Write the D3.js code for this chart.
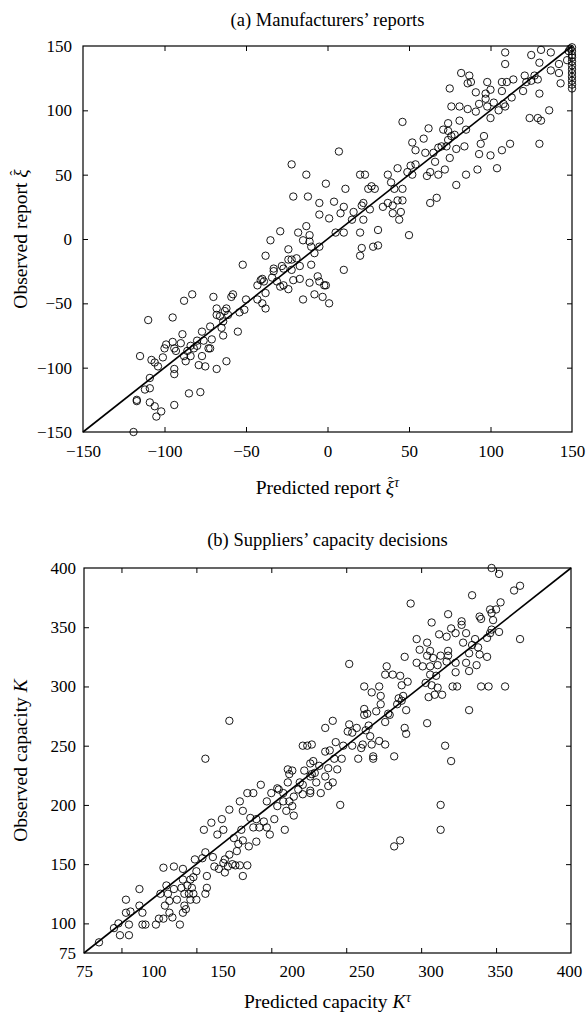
<!DOCTYPE html>
<html>
<head>
<meta charset="utf-8">
<script src="https://cdn.jsdelivr.net/npm/d3@7"></script>
<style>
	body { margin: 0; background: #fff; }
	svg { display: block; }
	text { font-family: 'Liberation Serif', 'Times New Roman', serif; fill: #000; }
</style>
</head>
<body>
<svg id="chart" width="587" height="1013"></svg>
<script>
// (a) manufacturers' reports: [predicted, observed]
const reportPairs = [
	[109,145],[109,136],[125,143],[131,147],[137,145],[130,137],[142,136],[147,139],
	[82,129],[87,127],[86,121],[88,122],[98,122],[75,117],[91,114],[97,113],[100,116],[107,122],[110,122],[114,124],[107,115],[113,110],
	[121,127],[122,122],[125,123],[127,127],[129,124],[120,115],[130,113],[137,131],[142,129],[143,121],
	[124,94],[129,94],[131,92],[136,100],[130,74],
	[97,109],[98,103],[102,106],[105,100],[109,103],[108,105],[100,94],[93,105],[91,99],[86,101],[81,103],[76,103],
	[81,92],[85,85],[74,90],[74,84],[78,81],[76,80],[71,85],[74,77],[68,71],[70,72],
	[62,86],[59,78],[52,75],[54,69],[60,67],[65,67],[73,72],[79,70],[84,72],[94,74],[96,80],[93,66],[100,65],[107,69],[112,74],
	[104,55],[92,54],[85,50],[79,42],[75,63],[66,60],[72,54],[68,50],[63,52],[61,49],
	[51,57],[54,58],[49,52],[52,50],[43,55],[37,50],[39,44],[46,91],[41,39],[46,39],[43,30],[46,30],[40,26],[34,25],[37,28],
	[45,21],[40,20],[44,15],[63,28],[67,32],[50,3],
	[20,50],[23,50],[25,39],[27,41],[29,39],[11,39],[7,68],[4,29],[8,20],[10,25],[16,21],[22,28],[21,26],[26,23],[15,15],[22,15],
	[5,5],[10,5],[20,5],[21,-7],[20,-13],[28,-6],[31,-5],[31,7],[10,-24],
	[-22,58],[-13,50],[-1,43],[-21,33],[-12,33],[-5,28],[-5,19],[1,16],[-13,10],[-29,6],[-35,-1],[-18,5],[-11,3],[-15,-1],[-11,-2],
	[-10,-6],[-5,-6],[-24,-8],[-8,-11],[-38,-13],[-24,-16],[-22,-16],[-19,-15],[-28,-21],[-33,-23],[-52,-20],[-17,-21],[-10,-20],
	[-27,-23],[-22,-24],[-33,-25],[-41,-32],[-39,-33],[-34,-30],[-31,-33],[-29,-37],[-27,-36],[-24,-39],[-21,-32],[-17,-31],[-15,-47],
	[-11,-34],[-8,-43],[-6,-29],[-5,-33],[-3,-45],[-1,-36],[1,-50],[-2,-36],
	[-43,-36],[-40,-31],[-38,-42],[-38,-54],[-43,-47],[-40,-50],[-50,-47],[-51,-55],[-54,-57],[-55,-72],[-58,-43],[-59,-45],[-62,-54],
	[-63,-56],[-61,-59],[-68,-54],[-66,-60],[-70,-45],[-68,-59],[-64,-64],[-65,-69],[-64,-75],[-72,-68],[-71,-78],[-77,-72],[-76,-79],
	[-73,-85],[-72,-85],[-80,-79],[-82,-85],[-84,-83],[-86,-87],[-84,-91],[-80,-83],[-77,-91],[-75,-99],[-79,-98],[-88,-91],[-87,-95],
	[-89,-74],[-83,-43],[-88,-48],[-95,-61],[-110,-63],[-90,-81],[-94,-85],[-100,-85],[-101,-92],[-95,-80],[-99,-82],[-93,-87],
	[-115,-91],[-108,-94],[-106,-96],[-104,-99],[-94,-101],[-94,-105],[-68,-101],[-62,-95],[-109,-108],[-112,-117],[-109,-116],
	[-85,-120],[-78,-119],[-117,-126],[-117,-125],[-109,-127],[-106,-130],[-94,-129],[-102,-134],[-105,-138],[-119,-150],
	[150,149],[150,146],[150,143],[150,141],[150,138],[150,135],[150,132],[150,129],[150,126],[150,123],[150,120],[150,117],
	[149,148],[148,146]
];

// (b) suppliers' capacity decisions: [predicted, observed]
const capacityPairs = [
	[172,271],[156,239],[221,250],[224,250],[226,235],[211,230],[212,226],[222,229],
	[347,400],[352,395],[366,385],[362,381],[334,377],[353,371],[293,370],[346,365],[350,365],[339,359],[340,357],[347,362],
	[348,356],[318,361],[307,354],[327,355],[327,352],[320,349],[312,344],[317,342],[323,345],[330,345],[336,340],[346,345],
	[347,348],[352,346],[344,341],[366,340],[297,340],[304,337],[299,331],[306,330],[318,330],[328,337],[338,333],[334,335],
	[332,328],[339,327],[344,325],[289,325],[304,326],[308,324],[313,326],[318,326],[297,320],[301,317],[306,317],[311,318],
	[317,321],[323,320],[330,320],[337,318],[332,313],[323,312],[252,319],[277,317],[276,310],[281,310],[286,309],[291,304],
	[287,301],[306,310],[310,309],[303,303],[307,301],[311,299],[305,291],[309,293],[314,293],[321,300],[324,300],[340,300],
	[345,300],[356,300],[262,300],[267,295],[272,300],[273,292],[273,285],[285,290],[288,292],[284,285],[290,280],[287,288],
	[262,281],[264,277],[262,276],[270,279],[278,277],[279,276],[276,270],[332,280],[304,269],[241,271],[236,265],[252,268],
	[251,262],[257,265],[254,261],[263,263],[266,258],[265,267],[267,251],[272,254],[276,251],[261,251],[260,248],[254,250],
	[248,250],[243,253],[239,246],[236,245],[247,239],[242,239],[258,239],[268,241],[268,239],[282,241],[289,265],[290,260],
	[316,250],[320,237],[227,251],[228,237],[232,233],[238,231],[244,230],[229,227],
	[246,200],[313,200],[313,179],[286,170],[282,165],[233,210],[230,219],[238,216],[241,219],[236,224],[227,226],[226,210],
	[85,84],[95,96],[98,100],[99,90],[105,90],[105,99],[103,120],[103,109],[106,110],[112,129],[112,115],[114,109],[114,99],
	[116,99],[123,99],[125,104],[128,104],[126,125],[128,147],[135,148],[129,115],[130,132],[131,125],[132,119],[134,105],
	[132,109],[137,120],[135,129],[139,99],[140,130],[141,146],[141,137],[142,125],[142,115],[143,112],[141,109],[145,125],
	[146,120],[147,130],[148,139],[150,144],[148,125],[150,120],[146,137],[144,132],[149,154],[154,155],[156,160],[156,125],
	[157,130],[157,140],[155,179],[160,185],[161,156],[162,148],[164,175],[165,146],[167,188],[168,179],[169,154],[168,151],
	[169,143],[171,148],[172,196],[172,158],[174,150],[175,172],[176,149],[177,161],[178,167],[179,203],[180,179],[179,149],
	[181,195],[181,170],[184,149],[181,140],[184,210],[188,210],[186,189],[188,181],[185,165],[190,169],[190,188],[192,181],
	[193,217],[195,186],[197,203],[197,181],[199,175],[200,210],[202,188],[204,214],[205,213],[208,210],[209,179],[210,195],
	[212,203],[214,199],[215,191],[211,219],[214,229],[221,209],[226,224],[226,212],[221,217],[219,219],[218,213],[215,207],
	[208,203],[204,199]
];

const reportDomain = [-150, 150];
const reportTicks = [-150, -100, -50, 0, 50, 100, 150];
const capacityDomain = [75, 400];
const capacityTicks = [75, 100, 150, 200, 250, 300, 350, 400];
const capacityXLabels = ['75', '100', '150', '200', '250', '300', '350', '400'];

const svg = d3.select('#chart');
const minus = (d) => String(d).replace('-', '\u2212');

// label pieces: plain text, italic symbol, hat over the previous glyph, superscript
function addLabel(sel, parts) {
	parts.forEach((p) => {
		const t = sel.append('tspan').text(p.text);
		if (p.italic) t.attr('font-style', 'italic');
		if (p.dx) t.attr('dx', p.dx);
		if (p.dy) t.attr('dy', p.dy);
		if (p.size) t.attr('font-size', p.size);
	});
}

const xiHat = [
	{ text: '\u03BE', italic: true },
	{ text: '\u02C6', dx: '-0.42em', dy: '-0.42em', size: '80%' },
];

function panel(opts) {
	const { left, right, top, bottom } = opts.box;
	const x = d3.scaleLinear().domain(opts.domain).range([left, right]);
	const y = d3.scaleLinear().domain(opts.domain).range([bottom, top]);
	const g = svg.append('g');

	// inward ticks on all four sides
	const inner = opts.ticks.filter((v) => v !== opts.domain[0] && v !== opts.domain[1]);
	g.append('g').attr('transform', `translate(0,${bottom})`)
		.call(d3.axisBottom(x).tickValues(inner).tickSize(-5).tickFormat(''));
	g.append('g').attr('transform', `translate(0,${top})`)
		.call(d3.axisTop(x).tickValues(inner).tickSize(-5).tickFormat(''));
	g.append('g').attr('transform', `translate(${left},0)`)
		.call(d3.axisLeft(y).tickValues(inner).tickSize(-5).tickFormat(''));
	g.append('g').attr('transform', `translate(${right},0)`)
		.call(d3.axisRight(y).tickValues(inner).tickSize(-5).tickFormat(''));

	// tick labels (panel b places its x labels evenly, as in the source figure)
	const xl = opts.xLabelScale || x;
	const xlab = g.append('g').attr('transform', `translate(0,${bottom})`)
		.call(d3.axisBottom(xl).tickValues(opts.xLabelValues || opts.ticks).tickSize(0).tickPadding(opts.xPad).tickFormat(minus));
	const ylab = g.append('g').attr('transform', `translate(${left},0)`)
		.call(d3.axisLeft(y).tickValues(opts.ticks).tickSize(0).tickPadding(opts.yPad).tickFormat(minus));
	[xlab, ylab].forEach((a) => {
		a.select('.domain').remove();
		a.selectAll('text').attr('font-size', 17).attr('font-family', 'Liberation Serif').attr('fill', '#000');
	});
	g.selectAll('.tick line').attr('stroke', '#000').attr('stroke-width', 1);
	g.selectAll('.domain').attr('stroke', 'none');

	g.append('rect')
		.attr('x', left).attr('y', top)
		.attr('width', right - left).attr('height', bottom - top)
		.attr('fill', 'none').attr('stroke', '#000').attr('stroke-width', 1.2);

	// 45 degree reference line
	g.append('line')
		.attr('x1', x(opts.domain[0])).attr('y1', y(opts.domain[0]))
		.attr('x2', x(opts.domain[1])).attr('y2', y(opts.domain[1]))
		.attr('stroke', '#000').attr('stroke-width', 1.6);

	g.append('g').selectAll('circle')
		.data(opts.data)
		.join('circle')
		.attr('cx', (d) => x(d[0]))
		.attr('cy', (d) => y(d[1]))
		.attr('r', 3.7)
		.attr('fill', 'none')
		.attr('stroke', '#000')
		.attr('stroke-width', 0.9);

	g.append('text')
		.attr('x', (left + right) / 2).attr('y', opts.titleY)
		.attr('text-anchor', 'middle').attr('font-size', 18.5)
		.text(opts.title);

	addLabel(g.append('text')
		.attr('x', (left + right) / 2).attr('y', opts.xTitleY)
		.attr('text-anchor', 'middle').attr('font-size', 19.5), opts.xTitle);

	addLabel(g.append('text')
		.attr('transform', `translate(${opts.yTitleX},${(top + bottom) / 2}) rotate(-90)`)
		.attr('text-anchor', 'middle').attr('font-size', 19.5), opts.yTitle);
}

panel({
	box: { left: 83, right: 572, top: 46, bottom: 432 },
	domain: reportDomain,
	ticks: reportTicks,
	data: reportPairs,
	xPad: 13,
	yPad: 11,
	title: '(a) Manufacturers\u2019 reports',
	titleY: 26,
	xTitle: [{ text: 'Predicted report ' }, ...xiHat, { text: '\u03C4', italic: true, dx: '0.12em', dy: '-0.05em', size: '70%' }],
	xTitleY: 494,
	yTitle: [{ text: 'Observed report ' }, ...xiHat],
	yTitleX: 27,
});

panel({
	box: { left: 84, right: 571, top: 568, bottom: 953 },
	domain: capacityDomain,
	ticks: capacityTicks,
	data: capacityPairs,
	xLabelScale: d3.scalePoint().domain(capacityXLabels).range([84, 569]),
	xLabelValues: capacityXLabels,
	xPad: 12,
	yPad: 8,
	title: '(b) Suppliers\u2019 capacity decisions',
	titleY: 546,
	xTitle: [{ text: 'Predicted capacity ' }, { text: 'K', italic: true }, { text: '\u03C4', italic: true, dx: '0.05em', dy: '-0.45em', size: '70%' }],
	xTitleY: 1008,
	yTitle: [{ text: 'Observed capacity ' }, { text: 'K', italic: true }],
	yTitleX: 27,
});
</script>
</body>
</html>
